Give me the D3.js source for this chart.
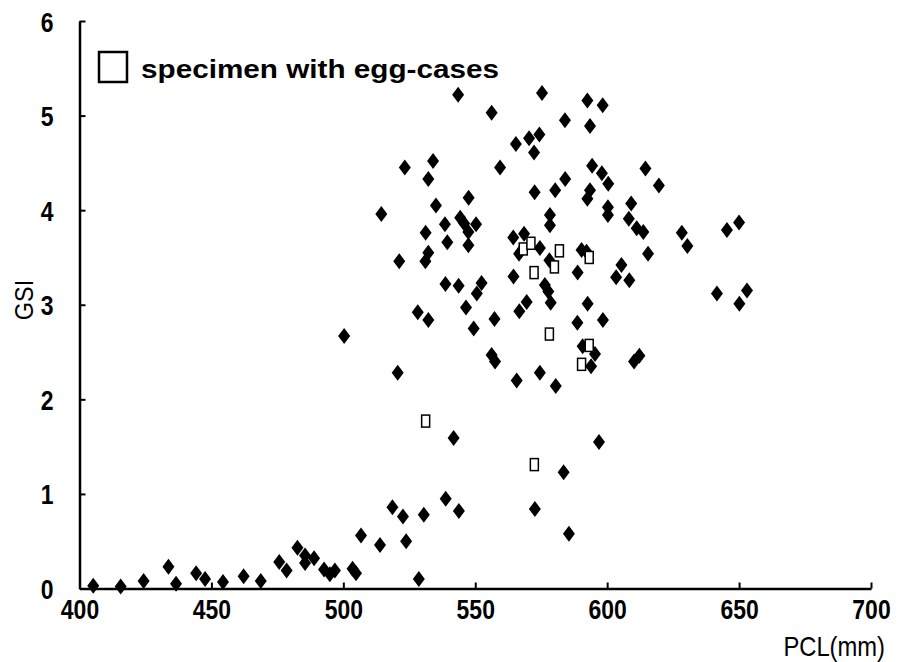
<!DOCTYPE html>
<html><head><meta charset="utf-8">
<script src="https://cdn.jsdelivr.net/npm/d3@7"></script>
<style>
html,body{margin:0;padding:0;background:#fff;}
svg{display:block;}
</style></head>
<body>
<svg id="chart" width="902" height="662"></svg>
<script>
// Specimens (filled diamonds): PCL (mm) and GSI
const pcl = [405.2,415.6,424.3,433.7,436.6,444.2,447.6,454.4,462.2,468.7,475.7,478.5,482.6,485.5,485.5,488.9,492.7,494.9,496.8,503.5,504.8,
  506.7,513.9,518.6,522.6,523.8,530.5,528.6,538.8,543.8,541.8,520.6,500.3,572.6,585.5,583.5,596.9,
  538.7,543.7,552.4,550.6,546.5,528.2,532.2,549.4,557.3,556.2,557.5,
  543.5,556.2,534.0,523.3,532.2,559.4,547.5,535.1,514.4,544.3,538.5,545.8,550.3,531.2,539.4,547.4,532.2,531.1,521.2,547.4,
  575.3,592.5,598.3,584.0,593.5,565.4,570.4,574.3,572.3,594.3,598.0,600.4,614.5,619.6,584.1,580.3,572.5,593.5,592.5,600.3,600.3,
  609.1,608.2,611.2,613.7,578.3,578.3,564.4,568.5,566.6,574.5,578.1,590.3,592.2,615.5,605.4,588.8,564.5,603.4,608.4,
  576.4,577.7,578.6,569.5,566.7,592.6,588.7,598.4,590.7,595.4,593.9,612.2,610.2,565.7,574.5,580.5,
  628.3,630.4,645.4,650.0,641.6,653.0,650.1];
const gsi = [0.03,0.02,0.08,0.23,0.05,0.16,0.10,0.07,0.13,0.08,0.28,0.19,0.43,0.35,0.27,0.32,0.20,0.15,0.19,0.21,0.16,
  0.56,0.46,0.86,0.76,0.50,0.78,0.10,0.95,0.82,1.59,2.28,2.67,0.84,0.58,1.23,1.55,
  3.22,3.20,3.23,3.12,2.97,2.92,2.84,2.75,2.85,2.47,2.40,
  5.22,5.03,4.52,4.45,4.33,4.45,4.13,4.05,3.96,3.92,3.85,3.86,3.85,3.76,3.66,3.63,3.55,3.46,3.46,3.77,
  5.24,5.16,5.11,4.95,4.89,4.70,4.76,4.80,4.61,4.47,4.39,4.28,4.44,4.26,4.33,4.21,4.19,4.21,4.12,4.03,3.95,
  4.07,3.91,3.81,3.77,3.95,3.84,3.71,3.75,3.54,3.60,3.47,3.58,3.56,3.54,3.42,3.34,3.30,3.29,3.26,
  3.21,3.14,3.02,3.03,2.93,3.01,2.81,2.84,2.56,2.48,2.35,2.46,2.40,2.20,2.28,2.14,
  3.76,3.62,3.79,3.87,3.12,3.15,3.01];
// Specimens with egg-cases (open squares)
const eggPcl = [568.2,571.1,581.9,580.0,593.2,572.3,578.1,593.2,590.3,531.2,572.4];
const eggGsi = [3.59,3.65,3.57,3.40,3.50,3.34,2.69,2.57,2.37,1.77,1.31];
const xTicks = [400,450,500,550,600,650,700];
const yTicks = [0,1,2,3,4,5,6];
const xTitle = "PCL(mm)";
const yTitle = "GSI";
const legendLabel = "specimen with egg-cases";

const svg = d3.select("#chart");
const x = d3.scaleLinear().domain([400,700]).range([79.5,871]);
const y = d3.scaleLinear().domain([0,6]).range([588.5,21]);

const tickFont = "'Liberation Sans',Arial,sans-serif";
const sx = 0.82; // horizontal squeeze to mimic the condensed face

const xAxis = svg.append("g").attr("transform",`translate(0,${y(0)})`)
  .call(d3.axisBottom(x).tickValues(xTicks).tickSizeInner(-6).tickSizeOuter(0).tickPadding(10));
const yAxis = svg.append("g").attr("transform",`translate(${x(400)},0)`)
  .call(d3.axisLeft(y).tickValues(yTicks).tickSizeInner(-6).tickSizeOuter(0).tickPadding(26).tickFormat(d3.format("d")));

[xAxis,yAxis].forEach(g=>{
  g.select(".domain").attr("stroke","#000").attr("stroke-width",2.5);
  g.selectAll(".tick line").attr("stroke","#000").attr("stroke-width",2);
  g.selectAll(".tick text").attr("fill","#000").style("font-family",tickFont)
    .style("font-weight","bold").style("font-size","28px")
    .attr("transform",`scale(${sx},1)`);
});
xAxis.selectAll(".tick text").attr("dy","0.72em");
yAxis.selectAll(".tick text").attr("x",-26/sx).attr("dy","0.36em");

// axis titles
svg.append("text").attr("transform",`translate(885,656) scale(0.88,1)`).attr("text-anchor","end")
  .style("font-family",tickFont).style("font-size","27px").style("font-weight","500").text(xTitle);
svg.append("text").attr("transform",`translate(33,300) rotate(-90) scale(0.9,1)`).attr("text-anchor","middle")
  .style("font-family",tickFont).style("font-size","26px").text(yTitle);

// points
const pts = pcl.map((p,i)=>({p, g: gsi[i]}));
svg.append("g").selectAll("path").data(pts).join("path")
  .attr("transform",d=>`translate(${x(d.p)},${y(d.g)})`)
  .attr("d","M0,-8L6,0L0,8L-6,0Z").attr("fill","#000");

const eggs = eggPcl.map((p,i)=>({p, g: eggGsi[i]}));
svg.append("g").selectAll("rect").data(eggs).join("rect")
  .attr("x",d=>x(d.p)-4).attr("y",d=>y(d.g)-6).attr("width",8).attr("height",12)
  .attr("fill","#fff").attr("stroke","#000").attr("stroke-width",1.5);

// legend
svg.append("rect").attr("x",99).attr("y",52).attr("width",28).attr("height",30)
  .attr("fill","#fff").attr("stroke","#000").attr("stroke-width",2.5);
svg.append("text").attr("x",141).attr("y",78)
  .style("font-family","'Liberation Sans',Arial,sans-serif").style("font-weight","bold").style("font-size","26px")
  .attr("textLength",358).attr("lengthAdjust","spacingAndGlyphs")
  .text(legendLabel);
</script>
</body></html>
